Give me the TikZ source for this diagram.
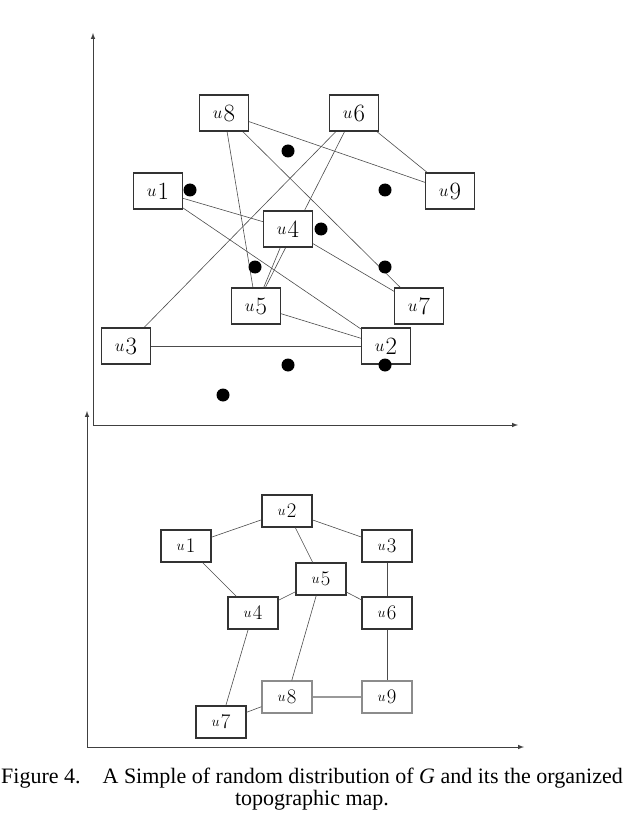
\documentclass[tikz,border=0pt]{standalone}
\usepackage{fontspec}
\usetikzlibrary{backgrounds}
\newfontfamily\capfont{Liberation Serif}
\newcommand\ubig[1]{\raisebox{0.22em}{\fontsize{18}{18}\selectfont$u$}\kern1pt{\fontsize{24}{24}\selectfont$#1$}}
\newcommand\usml[1]{\raisebox{0.22em}{\fontsize{15}{15}\selectfont$u$}\kern1pt{\fontsize{20}{20}\selectfont$#1$}}
\begin{document}
\begin{tikzpicture}[x=1pt,y=-1pt,
  bigbox/.style={draw=black!80,line width=1.1pt,fill=white,minimum width=49pt,minimum height=36pt,inner sep=0pt},
  smlbox/.style={draw=black!80,line width=1.1pt,fill=white,minimum width=50pt,minimum height=32pt,inner sep=0pt},
  edge/.style={draw=black!70,line width=0.6pt},
  axis/.style={draw=black!75,line width=1pt,-latex},
  dot/.style={circle,fill=black,minimum width=12pt,minimum height=13pt,inner sep=0pt}]
\useasboundingbox (0,0) rectangle (624,818);
% top axes
\coordinate (o1) at (93,425);
\coordinate (y1) at (93,33);
\coordinate (x1) at (518,425);
\draw[axis] (o1) -- (y1);
\draw[axis] (o1) -- (x1);
% top boxes
\node[bigbox] (a8) at (224,113) {\ubig{8}};
\node[bigbox] (a6) at (354,113) {\ubig{6}};
\node[bigbox] (a1) at (158,191) {\ubig{1}};
\node[bigbox] (a9) at (450,191) {\ubig{9}};
\node[bigbox] (a4) at (288,229) {\ubig{4}};
\node[bigbox] (a5) at (256,306) {\ubig{5}};
\node[bigbox] (a7) at (419,306) {\ubig{7}};
\node[bigbox] (a3) at (126,346) {\ubig{3}};
\node[bigbox] (a2) at (386,346) {\ubig{2}};
% dots
\node[dot] (d1) at (288,151) {};
\node[dot] (d2) at (190,190) {};
\node[dot] (d3) at (385,190) {};
\node[dot] (d4) at (321,229) {};
\node[dot] (d5) at (255,267) {};
\node[dot] (d6) at (385,267) {};
\node[dot] (d7) at (288,365) {};
\node[dot] (d8) at (385,365) {};
\node[dot] (d9) at (223,395) {};
\begin{scope}[on background layer]
\draw[edge] (a8) -- (a9);
\draw[edge] (a6) -- (a9);
\draw[edge] (a8) -- (a5);
\draw[edge] (a8) -- (a7);
\draw[edge] (a6) -- (a3);
\draw[edge] (a6) -- (a5);
\draw[edge] (a4) -- (a5);
\draw[edge] (a1) -- (a4);
\draw[edge] (a1) -- (a2);
\draw[edge] (a4) -- (a7);
\draw[edge] (a5) -- (a2);
\draw[edge] (a3) -- (a2);
\end{scope}
% bottom axes
\coordinate (o2) at (87,747);
\coordinate (y2) at (87,411);
\coordinate (x2) at (524,747);
\draw[axis] (o2) -- (y2);
\draw[axis] (o2) -- (x2);
\node[smlbox] (b2) at (287,511) {\usml{2}};
\node[smlbox] (b1) at (186,546) {\usml{1}};
\node[smlbox] (b3) at (387,546) {\usml{3}};
\node[smlbox] (b5) at (321,579) {\usml{5}};
\node[smlbox] (b4) at (253,613) {\usml{4}};
\node[smlbox] (b6) at (387,613) {\usml{6}};
\node[smlbox,draw=black!45] (b8) at (287,697) {\usml{8}};
\node[smlbox,draw=black!45] (b9) at (387,697) {\usml{9}};
\node[smlbox] (b7) at (221,722) {\usml{7}};
\draw[edge] (b1) -- (b2);
\draw[edge] (b2) -- (b3);
\draw[edge] (b2) -- (b5);
\draw[edge] (b1) -- (b4);
\draw[edge] (b4) -- (b5);
\draw[edge] (b5) -- (b6);
\draw[edge] (b3) -- (b6);
\draw[edge] (b6) -- (b9);
\draw[edge] (b4) -- (b7);
\draw[edge] (b5) -- (b8);
\draw[edge,draw=black!40,line width=1.2pt] (b8) -- (b9);
\draw[edge] (b7) -- (b8);
% caption
\node[font=\capfont\fontsize{22}{22}\selectfont,align=center] (cap) at (312,789)
 {Figure 4.\quad A Simple of random distribution of \textit{G} and its the organized\\topographic map.};
\end{tikzpicture}
\end{document}
